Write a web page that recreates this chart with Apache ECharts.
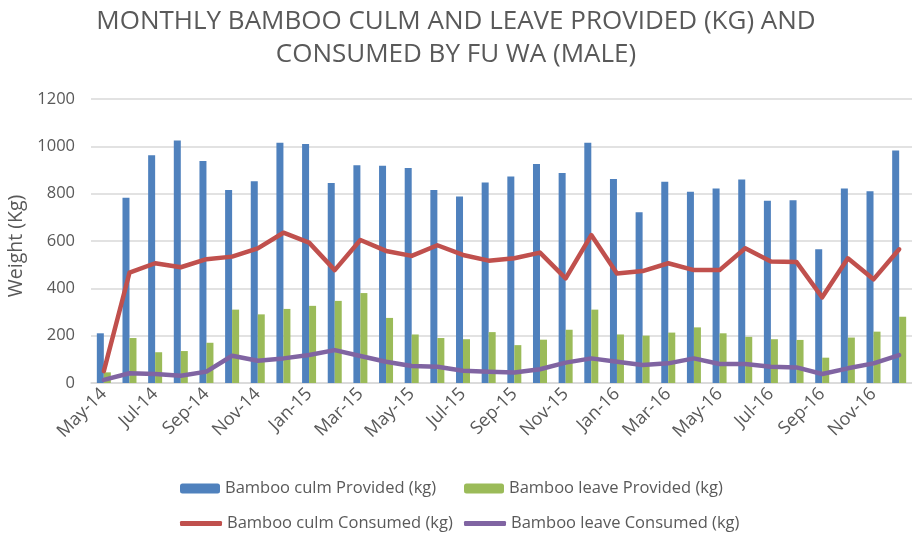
<!DOCTYPE html>
<html><head><meta charset="utf-8">
<script src="https://cdn.jsdelivr.net/npm/echarts@6/dist/echarts.min.js"></script>
<style>html,body{margin:0;padding:0;background:#fff}#c{width:912px;height:533px}</style>
</head><body><div id="c"></div>
<script>
const months = ['May-14','Jun-14','Jul-14','Aug-14','Sep-14','Oct-14','Nov-14','Dec-14',
 'Jan-15','Feb-15','Mar-15','Apr-15','May-15','Jun-15','Jul-15','Aug-15','Sep-15','Oct-15','Nov-15','Dec-15',
 'Jan-16','Feb-16','Mar-16','Apr-16','May-16','Jun-16','Jul-16','Aug-16','Sep-16','Oct-16','Nov-16','Dec-16'];
const culmProvided = [210,783,962,1025,938,815,852,1015,1010,845,920,918,908,815,788,847,873,925,887,1015,862,722,850,808,822,860,770,772,565,822,810,982];
const leaveProvided = [45,190,130,135,170,310,290,313,326,347,380,275,205,190,185,215,160,183,225,310,205,200,213,235,210,195,185,182,107,192,217,280];
const culmConsumed = [50,466,506,489,523,534,569,635,593,477,604,558,537,582,541,517,527,551,442,625,463,473,506,477,477,569,513,511,362,527,438,565];
const leaveConsumed = [13,41,38,31,48,115,94,104,118,139,114,90,72,69,52,48,44,58,86,104,90,76,83,104,80,80,69,66,38,62,83,118];
const yTicks = [0,200,400,600,800,1000,1200];

const FONT = 'Open Sans';
const TXT = '#595959';
const chart = echarts.init(document.getElementById('c'), null, {renderer:'canvas'});
const legendText = {fontFamily: FONT, fontSize: 16.5, color: TXT};
const barLeg = {itemWidth: 40, itemHeight: 10, itemGap: 0, textStyle: legendText, padding: 0};
const lineLeg = {itemWidth: 42, itemHeight: 5, itemGap: 0, textStyle: legendText, padding: 0, icon: 'roundRect'};
chart.setOption({
  animation: false,
  textStyle: {fontFamily: FONT},
  title: {
    text: 'MONTHLY BAMBOO CULM AND LEAVE PROVIDED (KG) AND\nCONSUMED BY FU WA (MALE)',
    left: 'center', top: 0,
    textStyle: {fontFamily: FONT, fontSize: 26, fontWeight: 'normal', color: TXT, lineHeight: 33}
  },
  legend: [
    Object.assign({data:['Bamboo culm Provided (kg)'], left:180, top:480}, barLeg),
    Object.assign({data:['Bamboo leave Provided (kg)'], left:464, top:480}, barLeg),
    Object.assign({data:['Bamboo culm Consumed (kg)'], left:180, top:515}, lineLeg),
    Object.assign({data:['Bamboo leave Consumed (kg)'], left:464, top:515}, lineLeg)
  ],
  grid: {left: 91, right: 0, top: 99, bottom: 150, containLabel: false, outerBoundsMode: 'none'},
  xAxis: {
    type: 'category', data: months, boundaryGap: true,
    axisLine: {lineStyle: {color: '#D9D9D9', width: 1.5}},
    axisTick: {interval: 1, length: 5, lineStyle: {color: '#D9D9D9', width: 1.5}},
    axisLabel: {interval: 1, rotate: 45, fontFamily: FONT, fontSize: 18, color: TXT, margin: 8}
  },
  yAxis: {
    type: 'value', min: yTicks[0], max: yTicks[yTicks.length-1], interval: 200,
    name: 'Weight (Kg)', nameLocation: 'middle', nameGap: 51, nameRotate: 90,
    nameTextStyle: {fontFamily: FONT, fontSize: 19.5, color: TXT, padding: [0, 10, 0, 0]},
    axisLine: {show: false}, axisTick: {show: false},
    axisLabel: {fontFamily: FONT, fontSize: 16.5, color: TXT, margin: 16, formatter: v => String(v)},
    splitLine: {lineStyle: {color: '#D9D9D9', width: 1.5}}
  },
  series: [
    {name:'Bamboo culm Provided (kg)', type:'bar', data: culmProvided, barWidth: 7, barGap: '0%', itemStyle:{color:'#4F81BD'}},
    {name:'Bamboo leave Provided (kg)', type:'bar', data: leaveProvided, barWidth: 7, barGap: '0%', itemStyle:{color:'#9BBB59'}},
    {name:'Bamboo culm Consumed (kg)', type:'line', data: culmConsumed, showSymbol:false, symbol:'none', lineStyle:{color:'#C0504D', width:4.5, join:'round', cap:'round'}, itemStyle:{color:'#C0504D'}},
    {name:'Bamboo leave Consumed (kg)', type:'line', data: leaveConsumed, showSymbol:false, symbol:'none', lineStyle:{color:'#8064A2', width:4.5, join:'round', cap:'round'}, itemStyle:{color:'#8064A2'}}
  ]
});
</script></body></html>
